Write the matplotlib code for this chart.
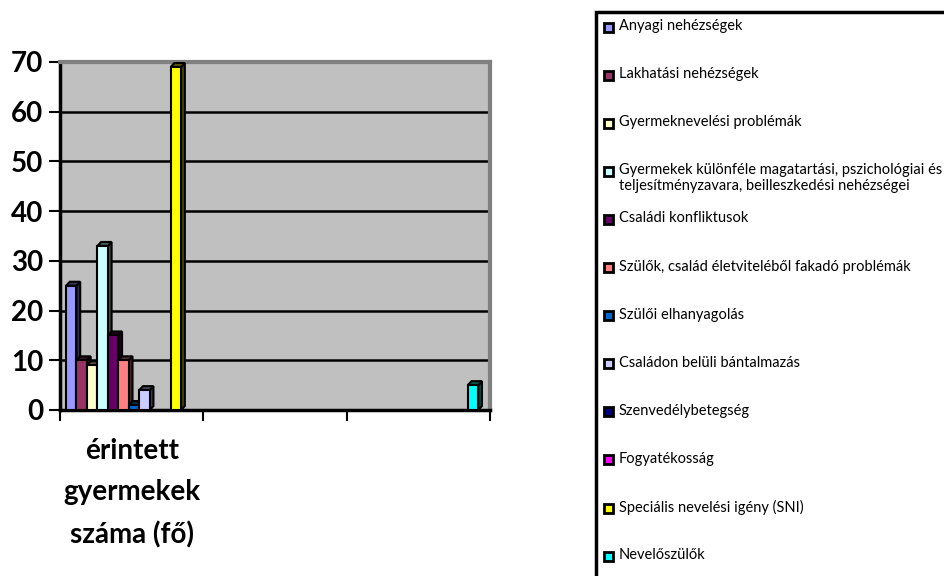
"""
Érintett gyermekek száma (fő) - 3D-style column chart
"""
import matplotlib
matplotlib.use("Agg")
import matplotlib.pyplot as plt
from matplotlib.patches import Rectangle
import numpy as np

plt.rcParams['font.family'] = ['Lato', 'DejaVu Sans']

categories = ["érintett\ngyermekek\nszáma (fő)", "", ""]
series = [
    "Anyagi nehézségek",
    "Lakhatási nehézségek",
    "Gyermeknevelési problémák",
    "Gyermekek különféle magatartási, pszichológiai és\n"
    "teljesítményzavara, beilleszkedési nehézségei",
    "Családi konfliktusok",
    "Szülők, család életviteléből fakadó problémák",
    "Szülői elhanyagolás",
    "Családon belüli bántalmazás",
    "Szenvedélybetegség",
    "Fogyatékosság",
    "Speciális nevelési igény (SNI)",
    "Nevelőszülők",
]
# one row per series, one column per category
values = [
    [25, 0, 0],
    [10, 0, 0],
    [9, 0, 0],
    [33, 0, 0],
    [15, 0, 0],
    [10, 0, 0],
    [1, 0, 0],
    [4, 0, 0],
    [0, 0, 0],
    [0, 0, 0],
    [69, 0, 0],
    [0, 0, 5],
]
colors = ["#9999FF", "#993366", "#FFFFCC", "#CCFFFF", "#660066", "#FF8080",
          "#0066CC", "#CCCCFF", "#000080", "#FF00FF", "#FFFF00", "#00FFFF"]
yticks = [0, 10, 20, 30, 40, 50, 60, 70]


def darker(c, f=0.55):
    r, g, b = matplotlib.colors.to_rgb(c)
    return (r * f, g * f, b * f)


fig = plt.figure(figsize=(9.44, 5.76), dpi=100)
W, H = 944, 576
ax = fig.add_axes([60 / W, 1 - 410 / H, 430 / W, 348 / H])
ax.set_facecolor("#C0C0C0")
ax.set_xlim(-0.5, 2.5)
ax.set_ylim(0, 70)

n = len(series)
bw = 0.073
dx, dy = 0.026, 0.8  # depth of the fake 3D faces
x = np.arange(len(categories))
for j in range(n):
    xs = x + (j - (n - 1) / 2) * bw - 0.02
    vals = np.array(values[j], dtype=float)
    for xi, v in zip(xs, vals):
        if v <= 0:
            continue
        l, r = xi - bw / 2, xi + bw / 2
        # side face
        ax.fill([r, r + dx, r + dx, r], [0, dy, v + dy, v],
                color=darker(colors[j], 0.3), ec="black", lw=1.5, zorder=3)
        # top face
        ax.fill([l, l + dx, r + dx, r], [v, v + dy, v + dy, v],
                color=darker(colors[j], 0.35), ec="black", lw=1.5, zorder=3)
    ax.bar(xs[vals > 0], vals[vals > 0], width=bw, color=colors[j],
           edgecolor="black", linewidth=1.5, zorder=4)

ax.set_yticks(yticks)
ax.set_yticklabels([str(t) for t in yticks], fontsize=20, fontweight="bold")
ax.yaxis.grid(True, color="black", lw=1.8, zorder=1)
ax.set_axisbelow(True)
ax.set_xticks([-0.5, 0.5, 1.5, 2.5], minor=False)
ax.set_xticklabels([])
ax.set_xticks(x, minor=True)
ax.set_xticklabels(categories, minor=True, fontsize=20, fontweight="bold",
                   linespacing=1.72)
ax.tick_params(axis="x", which="minor", length=0, pad=20)
ax.tick_params(axis="x", which="major", length=8, width=1.5)
ax.tick_params(axis="y", length=8, width=1.5, pad=4)

for s in ["left", "bottom"]:
    ax.spines[s].set_linewidth(2.5)
    ax.spines[s].set_color("black")
ax.spines["top"].set_color("#808080")
ax.spines["top"].set_linewidth(3)
ax.spines["right"].set_color("#808080")
ax.spines["right"].set_linewidth(3)

# legend, drawn like the spreadsheet legend box
fig.patches.append(Rectangle((596 / W, -0.1), 0.5, 1.1 - 12 / H,
                             transform=fig.transFigure, fill=False,
                             ec="black", lw=2.5))
for i, (lab, c) in enumerate(zip(series, colors)):
    yc = 1 - (27 + i * 48.1) / H
    fig.patches.append(Rectangle((604 / W, yc - 4.5 / H), 9 / W, 9 / H,
                                 transform=fig.transFigure, fc=c,
                                 ec="black", lw=2))
    fig.text(619 / W, yc + 8 / H, lab, fontsize=10.5, va="top", ha="left",
             linespacing=1.15)

fig.savefig("out.png", dpi=100)
